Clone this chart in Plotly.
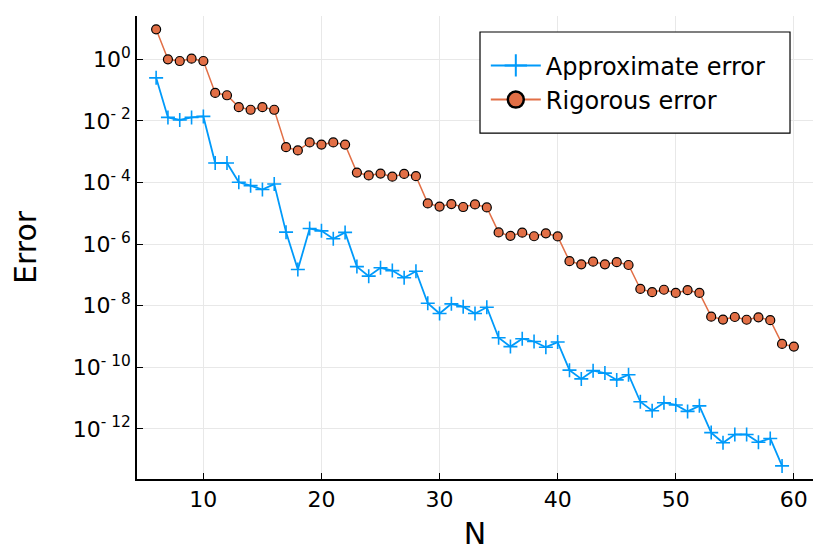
import plotly.graph_objects as go

n_approx = list(range(6, 60))
n_rig = list(range(6, 61))

approx_error = [
    0.25, 1.3e-2, 1.07e-2, 1.3e-2, 1.4e-2, 4.3e-4, 4.3e-4, 1.02e-4, 7.9e-5, 5.9e-5,
    8.9e-5, 2.45e-6, 1.5e-7, 3.2e-6, 2.7e-6, 1.5e-6, 2.4e-6, 1.86e-7, 9.1e-8, 1.7e-7,
    1.38e-7, 8.1e-8, 1.32e-7, 1.2e-8, 5.6e-9, 1.15e-8, 9.3e-9, 5.6e-9, 8.9e-9, 9.1e-10,
    4.7e-10, 8.5e-10, 6.9e-10, 4.5e-10, 6.6e-10, 8.1e-11, 4.2e-11, 7.8e-11, 6.5e-11, 3.9e-11,
    5.75e-11, 7.6e-12, 3.9e-12, 7.1e-12, 6.0e-12, 3.7e-12, 5.6e-12, 7.6e-13, 3.55e-13, 6.6e-13,
    6.6e-13, 3.7e-13, 4.9e-13, 6.3e-14,
]

rigorous_error = [
    9.4, 1.0, 0.88, 1.05, 0.88, 8.1e-2, 6.8e-2, 2.8e-2, 2.3e-2, 2.8e-2,
    2.3e-2, 1.4e-3, 1.1e-3, 2.0e-3, 1.7e-3, 2.0e-3, 1.7e-3, 2.1e-4, 1.7e-4, 1.95e-4,
    1.55e-4, 1.9e-4, 1.6e-4, 2.1e-5, 1.66e-5, 2.0e-5, 1.6e-5, 1.95e-5, 1.55e-5, 2.4e-6,
    1.86e-6, 2.35e-6, 1.8e-6, 2.24e-6, 1.78e-6, 2.8e-7, 2.2e-7, 2.7e-7, 2.2e-7, 2.6e-7,
    2.1e-7, 3.5e-8, 2.75e-8, 3.3e-8, 2.6e-8, 3.2e-8, 2.6e-8, 4.4e-9, 3.55e-9, 4.3e-9,
    3.5e-9, 4.2e-9, 3.4e-9, 5.75e-10, 4.7e-10,
]

y_tickvals = [1, 1e-2, 1e-4, 1e-6, 1e-8, 1e-10, 1e-12]
y_ticktext = ["10<sup>0</sup>", "10<sup>- 2</sup>", "10<sup>- 4</sup>", "10<sup>- 6</sup>",
              "10<sup>- 8</sup>", "10<sup>- 10</sup>", "10<sup>- 12</sup>"]
x_tickvals = [10, 20, 30, 40, 50, 60]

blue = "#009AFA"
orange = "#E26F46"

fig = go.Figure()

fig.add_trace(go.Scatter(
    x=n_approx, y=approx_error, name="Approximate error",
    mode="lines+markers", showlegend=False,
    line=dict(color=blue, width=1.8),
    marker=dict(symbol="cross-thin", size=10, line=dict(color=blue, width=1.6)),
))

fig.add_trace(go.Scatter(
    x=n_rig, y=rigorous_error, name="Rigorous error",
    mode="lines+markers", showlegend=False,
    line=dict(color=orange, width=1.5),
    marker=dict(symbol="circle", size=9, color=orange, line=dict(color="black", width=1.2)),
))

# nur fuer die Legende (groessere Symbole)
fig.add_trace(go.Scatter(
    x=[None], y=[None], name="Approximate error", mode="lines+markers",
    line=dict(color=blue, width=2),
    marker=dict(symbol="cross-thin", size=16, line=dict(color=blue, width=2)),
))
fig.add_trace(go.Scatter(
    x=[None], y=[None], name="Rigorous error", mode="lines+markers",
    line=dict(color=orange, width=2),
    marker=dict(symbol="circle", size=16, color=orange, line=dict(color="black", width=2.5)),
))

# Legendenrahmen als Shape
fig.add_shape(
    type="rect", xref="paper", yref="paper",
    x0=0.5074, x1=0.966, y0=0.747, y1=0.9654,
    line=dict(color="black", width=1.2), fillcolor="white", layer="above",
)

# Seite hat 8px Rand -> Figur etwas kleiner
fig.update_layout(
    width=822, height=546,
    margin=dict(l=129, r=17, t=8, b=75),
    paper_bgcolor="white", plot_bgcolor="white",
    font=dict(family="DejaVu Sans", size=22, color="black"),
    showlegend=True,
    legend=dict(
        x=0.516, y=0.941, xanchor="left", yanchor="top",
        borderwidth=0, bgcolor="rgba(0,0,0,0)",
        font=dict(size=24), tracegroupgap=0, itemwidth=50,
    ),
)

fig.update_xaxes(
    range=[4.38, 61.62], tickvals=x_tickvals,
    showline=True, linecolor="black", linewidth=1.5,
    ticks="inside", ticklen=6, tickcolor="black",
    showgrid=True, gridcolor="#E8E8E8", gridwidth=1, zeroline=False,
    title=dict(text="N", font=dict(size=30), standoff=12),
)

fig.update_yaxes(
    type="log", range=[-13.626, 1.406],
    tickvals=y_tickvals, ticktext=y_ticktext,
    showline=True, linecolor="black", linewidth=1.5,
    ticks="inside", ticklen=6, tickcolor="black",
    showgrid=True, gridcolor="#E8E8E8", gridwidth=1, zeroline=False,
    title=dict(text="Error", font=dict(size=30), standoff=33),
)

fig.write_html("out.html")
